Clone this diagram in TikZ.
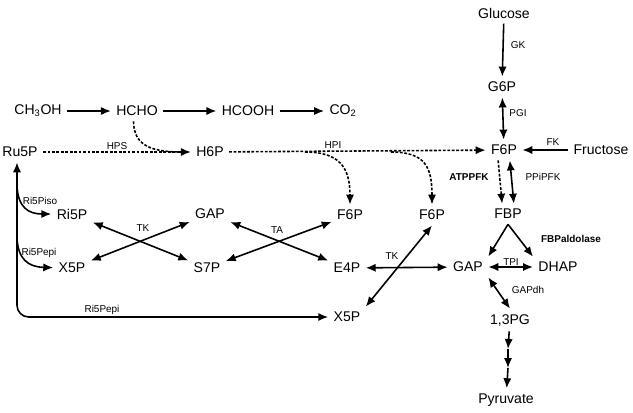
\documentclass[tikz,border=0pt]{standalone}
\usepackage{fontspec}
\setmainfont{Liberation Sans}
\usetikzlibrary{arrows.meta}

\begin{document}
\begin{tikzpicture}[x=0.03cm,y=-0.03cm, line width=1.35pt,
		>={Latex[length=8.5pt,width=7pt]},
		met/.style={font=\fontsize{12}{14}\selectfont, inner sep=4pt},
		enz/.style={font=\fontsize{8.5}{10}\selectfont, inner sep=1pt},
		pdash/.style={dash pattern=on 2.4pt off 1.4pt}]
		\useasboundingbox (0,0) rectangle (633,412);
		% glycolysis column
		\node[met] (glucose) at (504,13) {Glucose};
		\node[met] (g6p) at (502,87) {G6P};
		\node[met] (f6p) at (504,150) {F6P};
		\node[met] (fructose) at (601,150) {Fructose};
		\node[met] (fbp) at (508,214) {FBP};
		\node[met] (gap) at (468,267) {GAP};
		\node[met] (dhap) at (558,267) {DHAP};
		\node[met] (pg13) at (510,320) {1,3PG};
		\node[met] (pyruvate) at (506,400) {Pyruvate};
		\coordinate (py1) at (508,349);
		\coordinate (py2) at (508,368);
		% methanol oxidation
		\node[met] (ch3oh) at (38,111) {CH\textsubscript{3}OH};
		\node[met] (hcho) at (137,111) {HCHO};
		\node[met] (hcooh) at (248,111) {HCOOH};
		\node[met] (co2) at (343,111) {CO\textsubscript{2}};
		% RuMP cycle
		\node[met] (ru5p) at (20,152) {Ru5P};
		\node[met] (h6p) at (210,152) {H6P};
		\node[met] (ri5p) at (72,214) {Ri5P};
		\node[met] (x5pa) at (72,268) {X5P};
		\node[met] (gapa) at (210,214) {GAP};
		\node[met] (s7p) at (207,268) {S7P};
		\node[met] (f6pa) at (350,215) {F6P};
		\node[met] (e4p) at (347,268) {E4P};
		\node[met] (f6pb) at (432,215) {F6P};
		\node[met] (x5pb) at (347,317) {X5P};
		\coordinate (corner) at (17,317);
		\coordinate (isob) at (17,186);
		\coordinate (epib) at (17,238);
		\coordinate (hpia) at (305,152);
		\coordinate (hpib) at (391,152);
		% enzyme labels
		\node[enz] (gk) at (518,45) {GK};
		\node[enz] (pgi) at (518,113) {PGI};
		\node[enz] (fk) at (553,142) {FK};
		\node[enz, font=\fontsize{8.5}{10}\selectfont\bfseries] (atppfk) at (469,177) {ATPPFK};
		\node[enz] (ppipfk) at (543,177) {PPiPFK};
		\node[enz, font=\fontsize{8.5}{10}\selectfont\bfseries] (fbpald) at (571,239) {FBPaldolase};
		\node[enz] (tpi) at (511,262) {TPI};
		\node[enz] (gapdh) at (528,290) {GAPdh};
		\node[enz] (hps) at (117,146) {HPS};
		\node[enz] (hpi) at (333,145) {HPI};
		\node[enz] (tka) at (143,228) {TK};
		\node[enz] (ta) at (277,230) {TA};
		\node[enz] (tkb) at (392,256) {TK};
		\node[enz] (ri5piso) at (40,201) {Ri5Piso};
		\node[enz] (ri5pepi) at (39,253) {Ri5Pepi};
		\node[enz] (ri5pepib) at (102,310) {Ri5Pepi};

		\draw[->] (glucose) -- (g6p);
		\draw[<->] (g6p) -- (f6p);
		\draw[->] (fructose) -- (f6p);
		\draw[->, pdash] ([xshift=-5pt]f6p.south) -- ([xshift=-5pt]fbp.north);
		\draw[<->] ([xshift=5pt]f6p.south) -- ([xshift=5pt]fbp.north);
		\draw[->] (fbp.south) -- (gap.north east);
		\draw[->] (fbp.south) -- (dhap.north west);
		\draw[<->] (gap) -- (dhap);
		\draw[<->] (gap.south east) -- (pg13.north);
		\draw[->] (pg13) -- (py1);
		\draw[->] (py1) -- (py2);
		\draw[->] (py2) -- (pyruvate);

		\draw[->] (ch3oh) -- (hcho);
		\draw[->] (hcho) -- (hcooh);
		\draw[->] (hcooh) -- (co2);
		\draw[pdash] ([xshift=-3pt]hcho.south) .. controls (134,145) and (150,152) .. (182,152);
		\draw[->, pdash] (ru5p) -- (h6p);
		\draw[->, pdash] (h6p) -- (f6p);
		\draw[->, pdash] (hpia) .. controls (340,152) and (350,168) .. (f6pa.north);
		\draw[->, pdash] (hpib) .. controls (426,152) and (432,168) .. (f6pb.north);

		\draw[<->, rounded corners=10pt] (ru5p.south -| corner) -- (corner) -- (x5pb);
		\draw[->] (isob) .. controls (18,207) and (28,214) .. (ri5p);
		\draw[->] (epib) .. controls (18,259) and (28,267) .. (x5pa);
		\draw[<->] (ri5p) -- (s7p);
		\draw[<->] (x5pa) -- (gapa);
		\draw[<->] (gapa) -- (e4p);
		\draw[<->] (s7p) -- (f6pa);
		\draw[<->] (e4p) -- (gap);
		\draw[<->] (f6pb.south) -- (x5pb.north east);
\end{tikzpicture}
\end{document}
